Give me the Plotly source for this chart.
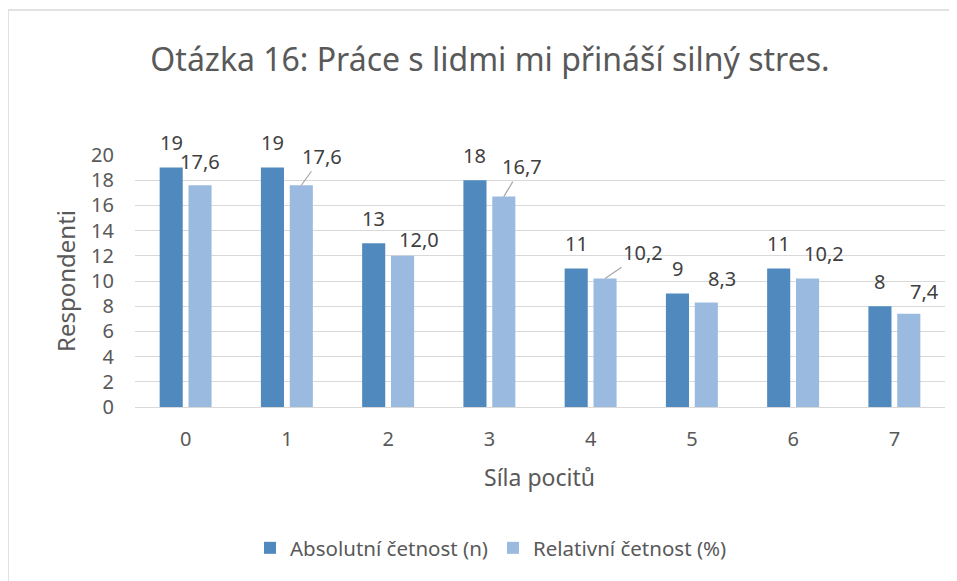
import plotly.graph_objects as go

categories = [0, 1, 2, 3, 4, 5, 6, 7]
tick_labels = ["0", "1", "2", "3", "4", "5", "6", "7"]
absolute = [19, 19, 13, 18, 11, 9, 11, 8]
relative = [17.6, 17.6, 12.0, 16.7, 10.2, 8.3, 10.2, 7.4]
abs_labels = ["19", "19", "13", "18", "11", "9", "11", "8"]
rel_labels = ["17,6", "17,6", "12,0", "16,7", "10,2", "8,3", "10,2", "7,4"]
# label offsets (px) of relative-value labels relative to bar top, and leader flag
rel_dx = [0, 21, 16, 18, 38, 16, 16, 16]
rel_dy = [24, 29, 16, 30, 26, 24, 25, 22]
rel_leader = [False, True, False, True, True, False, False, False]

# page offset (body margin) compensation
OX, OY = 8, 8
W, H = 957 - OX, 581 - OY
ML, MR, MT, MB = 135 - OX, 12, 155 - OY, 174
plot_w = W - ML - MR
plot_h = H - MT - MB
bargap = 0.43
bargroupgap = 0.2
cat_px = plot_w / len(categories)
slot_px = (1 - bargap) * cat_px / 2
off = slot_px / 2


def px_x(sx):
    return (sx - OX - ML) / plot_w


def px_y(sy):
    return (MT + plot_h - (sy - OY)) / plot_h


FONT = "Noto Sans"
GRAY = "#595959"
LBL = "#404040"
DARK = "#4F89BE"
LIGHT = "#9BBAE0"

fig = go.Figure()
fig.add_trace(go.Bar(x=categories, y=absolute, name="Absolutní četnost (n)",
                     marker=dict(color=DARK, line=dict(width=0))))
fig.add_trace(go.Bar(x=categories, y=relative, name="Relativní četnost (%)",
                     marker=dict(color=LIGHT, line=dict(width=0))))

ann = []
for i, c in enumerate(categories):
    ann.append(dict(x=c, y=absolute[i], xref="x", yref="y", text=abs_labels[i],
                    showarrow=False, xshift=-off, yshift=25,
                    font=dict(size=20, color=LBL, family=FONT)))
    if rel_leader[i]:
        ann.append(dict(x=c, y=relative[i], xref="x", yref="y", text=rel_labels[i],
                        showarrow=True, arrowhead=0, arrowwidth=1.2, arrowcolor="#A6A6A6",
                        ax=rel_dx[i], ay=-rel_dy[i], standoff=0, startstandoff=0,
                        xshift=off,
                        font=dict(size=20, color=LBL, family=FONT)))
    else:
        ann.append(dict(x=c, y=relative[i], xref="x", yref="y", text=rel_labels[i],
                        showarrow=False, xshift=off + rel_dx[i], yshift=rel_dy[i],
                        font=dict(size=20, color=LBL, family=FONT)))

ann.append(dict(x=px_x(65), y=0.5, xref="paper", yref="paper",
                text="Respondenti", textangle=-90, showarrow=False,
                xanchor="center", yanchor="middle",
                font=dict(size=24, color=GRAY, family=FONT)))
ann.append(dict(x=px_x(539), y=px_y(477), xref="paper", yref="paper",
                text="Síla pocitů", showarrow=False,
                xanchor="center", yanchor="middle",
                font=dict(size=23, color=GRAY, family=FONT)))

fig.update_layout(
    width=W, height=H,
    margin=dict(l=ML, r=MR, t=MT, b=MB),
    paper_bgcolor="white", plot_bgcolor="white",
    barmode="group", bargap=bargap, bargroupgap=bargroupgap,
    title=dict(text="Otázka 16: Práce s lidmi mi přináší silný stres.",
               x=(490 - OX) / W, xanchor="center", y=1 - (60 - OY) / H, yanchor="middle",
               font=dict(size=32, color=GRAY, family=FONT)),
    font=dict(family=FONT, color=GRAY),
    showlegend=True,
    legend=dict(orientation="h", x=px_x(491), xanchor="center",
                y=px_y(548), yanchor="middle",
                font=dict(size=20.5, color=GRAY, family=FONT),
                itemclick=False),
    annotations=ann,
    shapes=[dict(type="rect", xref="paper", yref="paper",
                 x0=px_x(8), x1=px_x(970),
                 y0=px_y(595), y1=px_y(10),
                 line=dict(color="#D9D9D9", width=1.5), layer="below")],
)
fig.update_xaxes(range=[-0.5, 7.5], tickvals=categories, ticktext=tick_labels,
                 showgrid=False, showline=True, linecolor="#D9D9D9", linewidth=1,
                 ticks="outside", ticklen=14, tickcolor="rgba(0,0,0,0)",
                 tickfont=dict(size=20, color=GRAY, family=FONT), zeroline=False)
fig.update_yaxes(range=[0, 20], dtick=2, showgrid=True, gridcolor="#D9D9D9", gridwidth=1,
                 ticks="outside", ticklen=16, tickcolor="rgba(0,0,0,0)",
                 tickfont=dict(size=20, color=GRAY, family=FONT), zeroline=False,
                 showline=False)

fig.write_html("out.html")
